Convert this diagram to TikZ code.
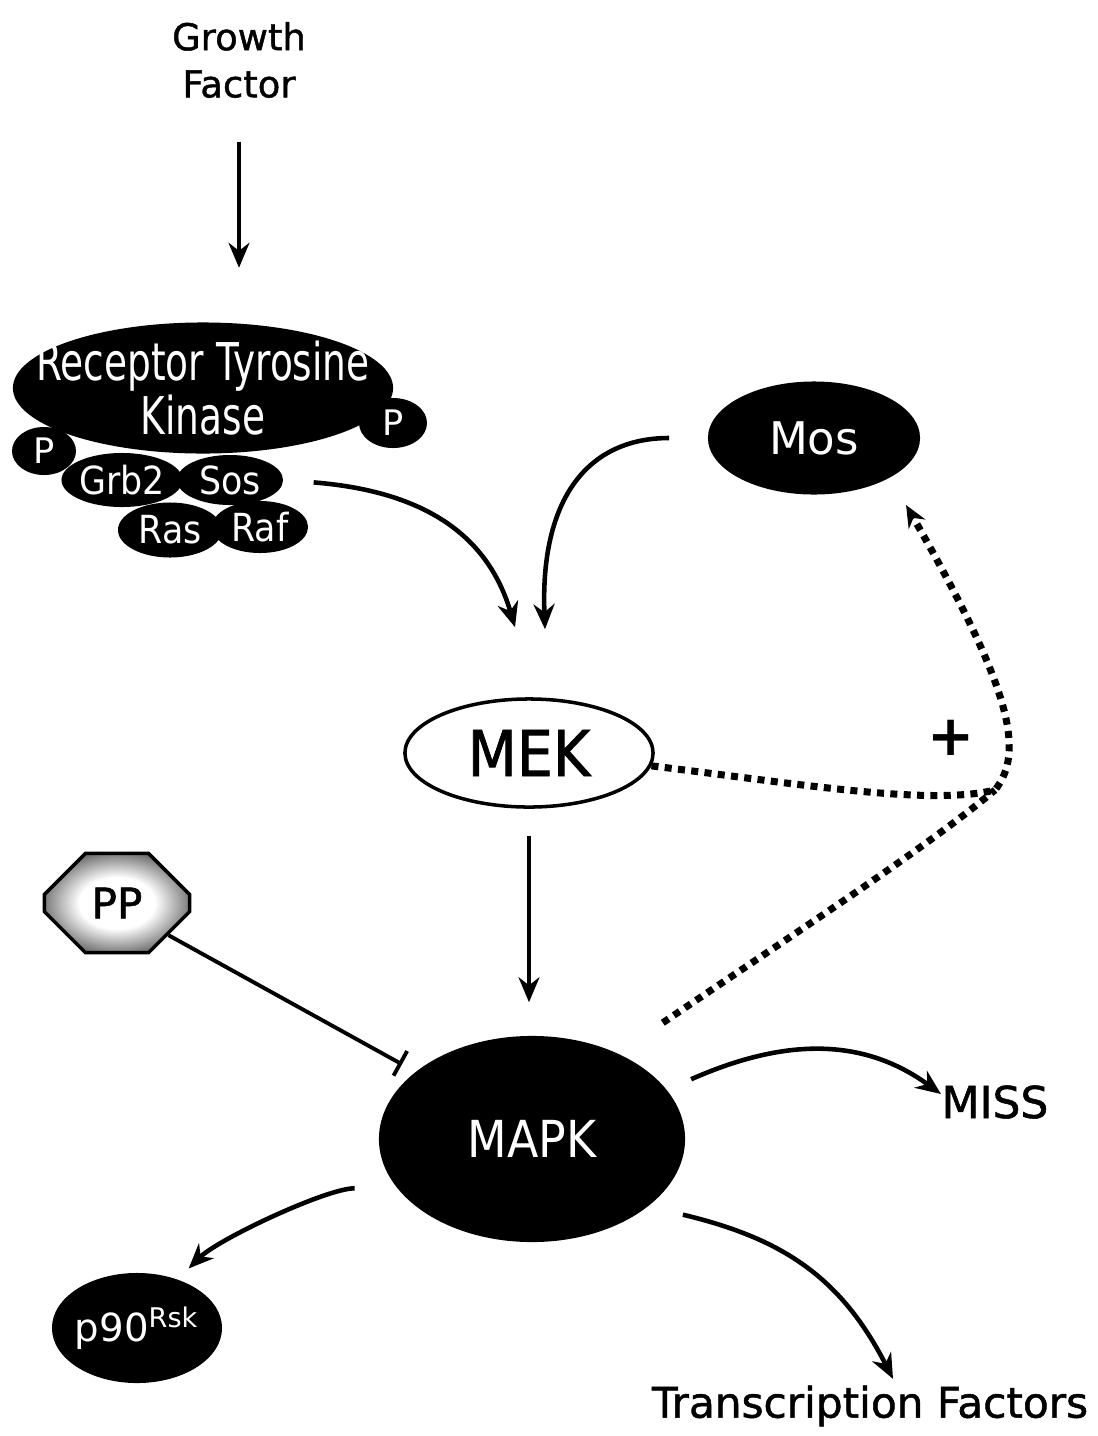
\documentclass[tikz,border=0pt]{standalone}
\usepackage{fontspec}
\setmainfont{DejaVu Sans}
\newfontfamily\rtkfont[FakeStretch=0.72]{DejaVu Sans}
\newfontfamily\narrowfont[FakeStretch=0.9]{DejaVu Sans}
\newfontfamily\heavyfont[FakeBold=1.2]{DejaVu Sans}
\newfontfamily\heavynarrow[FakeBold=1.2,FakeStretch=0.9]{DejaVu Sans}
\usetikzlibrary{shapes.geometric,shapes.misc,arrows.meta}
\pgfdeclareradialshading{ppglow}{\pgfpoint{0bp}{0bp}}{color(0bp)=(white); color(13bp)=(white); color(27bp)=(black!60); color(38bp)=(black); color(50bp)=(black)}

\tikzset{
	blob/.style={ellipse, fill=black, inner sep=0pt},
	intext/.style={text=white, inner sep=0pt},
	lbl/.style={inner sep=0pt, text=black},
	arr/.style={-{Stealth[length=2.5mm,width=2.1mm]}, line width=1.3pt},
	dotarr/.style={line width=2pt, dash pattern=on 2pt off 1.8pt},
	inhib/.style={-{Bar[width=8pt]}, line width=1.1pt}
}

\begin{document}
\begin{tikzpicture}[x=0.01cm, y=-0.01cm]
	\useasboundingbox (0,0) rectangle (1098,1436);

	\node[lbl, align=center, font=\heavyfont\fontsize{10.5}{13.4}\selectfont] (gf) at (239,60) {Growth\\Factor};

	\node[blob, minimum width=38mm, minimum height=13.1mm, label={[intext, align=center, font=\rtkfont\fontsize{14.8}{13.4}\selectfont]center:{Receptor Tyrosine\\Kinase}}] (rtk) at (203,388) {};
	\node[blob, minimum width=6.4mm, minimum height=4.8mm, label={[intext, font=\fontsize{10}{12}\selectfont]center:P}] (pl) at (44,451) {};
	\node[blob, minimum width=6.8mm, minimum height=5mm, label={[intext, font=\fontsize{10}{12}\selectfont]center:P}] (pr) at (393,423) {};
	\node[blob, minimum width=12.1mm, minimum height=5.4mm, label={[intext, font=\narrowfont\fontsize{11}{13}\selectfont]center:Grb2}] (grb) at (122,480) {};
	\node[blob, minimum width=10.6mm, minimum height=5mm, label={[intext, font=\narrowfont\fontsize{11}{13}\selectfont]center:Sos}] (sos) at (230,480) {};
	\node[blob, minimum width=9.6mm, minimum height=5.2mm, label={[intext, font=\narrowfont\fontsize{11}{13}\selectfont]center:Raf}] (raf) at (260,527) {};
	\node[blob, minimum width=10.4mm, minimum height=5.5mm, label={[intext, font=\narrowfont\fontsize{11}{13}\selectfont]center:Ras}] (ras) at (170,530) {};

	\node[blob, minimum width=21.2mm, minimum height=11.3mm, label={[intext, font=\fontsize{12.8}{15}\selectfont]center:Mos}] (mos) at (814,438) {};
	\node[draw, ellipse, line width=1pt, minimum width=24.8mm, minimum height=10.8mm, inner sep=0pt, font=\heavynarrow\fontsize{18}{20}\selectfont] (mek) at (529,753) {MEK};
	\node[blob, minimum width=30.6mm, minimum height=20.6mm, label={[intext, font=\narrowfont\fontsize{14.5}{17}\selectfont]center:MAPK}] (mapk) at (532,1139) {};
	\node[blob, minimum width=17mm, minimum height=11mm, label={[intext, font=\fontsize{11}{13}\selectfont]center:p90\textsuperscript{Rsk}}] (p90) at (137,1328) {};
	\node[chamfered rectangle, chamfered rectangle xsep=2.5mm, chamfered rectangle ysep=2.8mm, draw, line width=1pt, shade, shading=ppglow, minimum width=14.5mm, minimum height=9.9mm, inner sep=0pt, font=\heavyfont\fontsize{12}{14}\selectfont] (pp) at (117,903) {PP};

	\node[lbl, font=\heavyfont\fontsize{12.5}{15}\selectfont] (miss) at (995,1102) {MISS};
	\node[lbl, font=\heavyfont\fontsize{12}{14}\selectfont] (tf) at (870,1406) {Transcription Factors};
	\node[lbl, font=\bfseries\fontsize{16}{18}\selectfont] (plus) at (951,738) {+};
	\coordinate (join) at (995,790);

	\draw[arr, line width=0.9pt, shorten <=4.3mm, shorten >=5.4mm] (gf.south) -- (gf.south |- rtk.north);
	\draw[arr, shorten <=3mm] (sos.east) .. controls +(150,12) and +(-25,-85) .. ([xshift=-1.4mm,yshift=7mm]mek.north);
	\draw[arr, shorten <=3.8mm] (mos.west) .. controls +(-120,0) and +(-5,-130) .. ([xshift=1.6mm,yshift=6.8mm]mek.north);
	\draw[arr, line width=1pt, shorten <=2.7mm, shorten >=3.3mm] (mek.south) -- (mek.south |- mapk.north);
	\draw[inhib, shorten >=1.5mm] (pp.-32) -- (mapk.150);

	\draw[dotarr, -{Stealth[length=2.2mm,width=1.9mm]}] (mek.-6) .. controls (800,784) and (930,806) .. (join) .. controls (1025,752) and (1012,690) .. ([xshift=9.2mm,yshift=-6.7mm]mos.center);
	\draw[dotarr, shorten <=5.4mm] (mapk.45) .. controls (800,930) and (930,845) .. (join);

	\draw[arr, shorten <=2.6mm] (mapk.20) .. controls (780,1040) and (860,1035) .. ([yshift=0.8mm]miss.west);
	\draw[arr, shorten <=3.5mm] (mapk.-30) .. controls (780,1238) and (840,1275) .. ([xshift=2.3mm,yshift=0.6mm]tf.north);
	\draw[arr, shorten <=4.2mm, shorten >=1.5mm] (mapk.200) .. controls +(-70,0) and +(40,-40) .. (p90.50);
\end{tikzpicture}
\end{document}
